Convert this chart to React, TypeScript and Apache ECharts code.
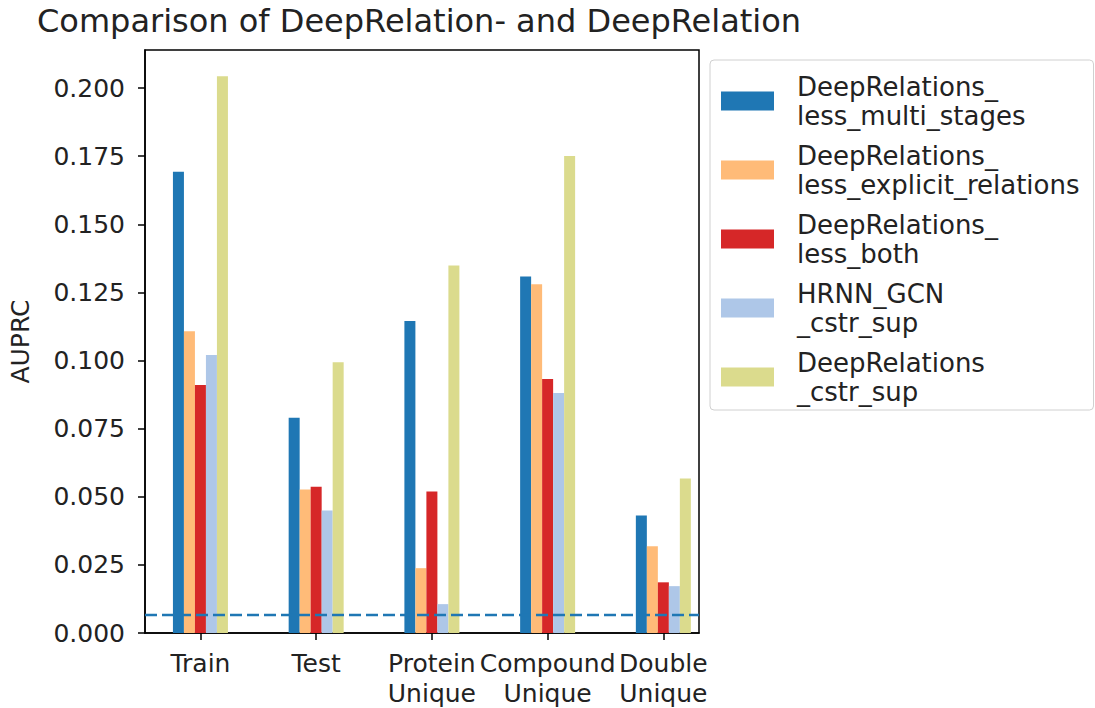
import React, { useEffect, useRef } from "react";
import * as echarts from "echarts";

const categories = ["Train", "Test", "Protein\nUnique", "Compound\nUnique", "Double\nUnique"];
const seriesNames = [
  "DeepRelations_\nless_multi_stages",
  "DeepRelations_\nless_explicit_relations",
  "DeepRelations_\nless_both",
  "HRNN_GCN\n_cstr_sup",
  "DeepRelations\n_cstr_sup",
];
const lessMultiStages = [0.1693, 0.079, 0.1145, 0.1309, 0.0431];
const lessExplicitRelations = [0.1108, 0.0527, 0.0238, 0.128, 0.0318];
const lessBoth = [0.091, 0.0537, 0.0519, 0.0932, 0.0186];
const hrnnGcnCstrSup = [0.102, 0.045, 0.0106, 0.0881, 0.0172];
const deepRelationsCstrSup = [0.2044, 0.0994, 0.1349, 0.1751, 0.0567];
const baseline = 0.0066;
const yTicks = [0, 0.025, 0.05, 0.075, 0.1, 0.125, 0.15, 0.175, 0.2];
const xTicks = [0, 1, 2, 3, 4];
const xMin = -0.479;
const xMax = 4.308;
const colors = ["#1f77b4", "#ffbb78", "#d62728", "#aec7e8", "#dbdb8d"];

const FONT = "DejaVu Sans";

export default function App() {
  const ref = useRef<HTMLDivElement>(null);
  useEffect(() => {
    if (!ref.current) return;
    const chart = echarts.init(ref.current, null, { renderer: "svg" });
    const allValues = [lessMultiStages, lessExplicitRelations, lessBoth, hrnnGcnCstrSup, deepRelationsCstrSup];
    const series: any[] = allValues.map((vals, si) => ({
      type: "bar",
      name: seriesNames[si],
      data: vals.map((v, i) => [i, v]),
      barWidth: 11,
      barGap: "0%",
      itemStyle: { color: colors[si] },
      emphasis: { disabled: true },
    }));
    series.push({
      type: "line",
      name: "baseline",
      data: [
        [xMin, baseline],
        [xMax, baseline],
      ],
      symbol: "none",
      silent: true,
      lineStyle: { color: "#1f77b4", type: [12, 5], width: 2.5 },
      z: 5,
    });
    chart.setOption({
      animation: false,
      backgroundColor: "#fff",
      title: {
        text: "Comparison of DeepRelation- and DeepRelation",
        left: 37,
        top: 5,
        padding: 0,
        textStyle: { fontFamily: FONT, fontSize: 32, fontWeight: "normal", color: "#222" },
      },
      legend: {
        orient: "vertical",
        left: 710,
        top: 60,
        itemWidth: 53,
        itemHeight: 19,
        itemGap: 11,
        icon: "rect",
        padding: [12, 14, 4, 11],
        borderColor: "#d0d0d0",
        borderWidth: 1,
        borderRadius: 4,
        data: seriesNames,
        textStyle: {
          fontFamily: FONT,
          fontSize: 26,
          lineHeight: 29,
          color: "#222",
          padding: [0, 0, 0, 18],
        },
      },
      grid: {
        left: 139,
        right: 396,
        top: 50,
        bottom: 72,
        show: true,
        borderColor: "#000",
        borderWidth: 1.5,
        containLabel: false,
      },
      xAxis: {
        type: "value",
        min: xMin,
        max: xMax,
        splitLine: { show: false },
        axisLine: { show: true, onZero: false, lineStyle: { color: "#000", width: 1.5 } },
        axisTick: { show: true, length: 7, customValues: xTicks, lineStyle: { color: "#000", width: 1.5 } },
        axisLabel: {
          customValues: xTicks,
          margin: 15,
          fontFamily: FONT,
          fontSize: 25,
          lineHeight: 30,
          color: "#222",
          formatter: (v: number) => categories[Math.round(v)] ?? "",
        },
      },
      yAxis: {
        type: "value",
        min: 0,
        max: 0.214,
        name: "AUPRC",
        nameLocation: "middle",
        nameGap: 112,
        nameRotate: 90,
        nameTextStyle: { fontFamily: FONT, fontSize: 25, color: "#222" },
        splitLine: { show: false },
        axisLine: { show: true, onZero: false, lineStyle: { color: "#000", width: 1.5 } },
        axisTick: { show: true, length: 7, customValues: yTicks, lineStyle: { color: "#000", width: 1.5 } },
        axisLabel: {
          customValues: yTicks,
          margin: 20,
          fontFamily: FONT,
          fontSize: 25,
          color: "#222",
          formatter: (v: number) => v.toFixed(3),
        },
      },
      series,
    });
    return () => chart.dispose();
  }, []);
  return (
    <div
      ref={ref}
      style={{ position: "fixed", left: 0, top: 0, width: 1095, height: 708, background: "#fff" }}
    />
  );
}
